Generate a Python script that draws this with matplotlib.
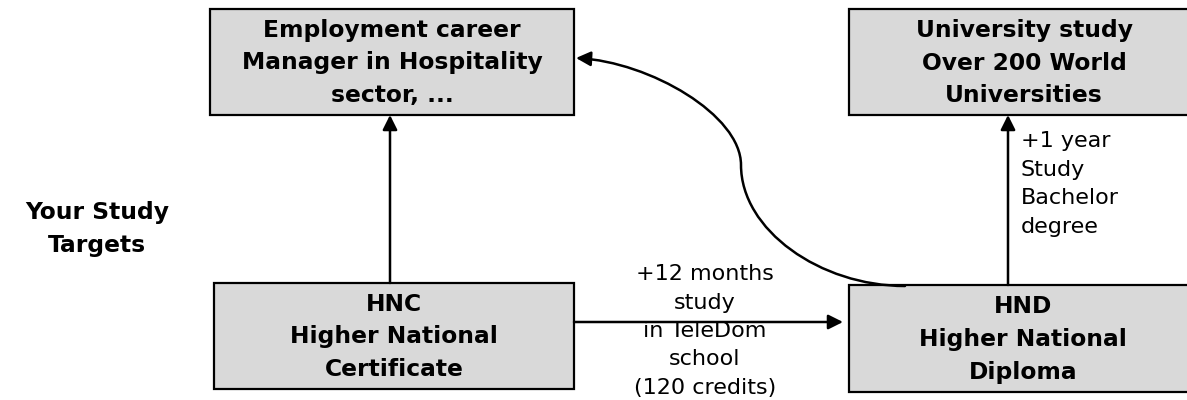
import matplotlib
matplotlib.use("Agg")
import matplotlib.pyplot as plt
from matplotlib.patches import Rectangle, FancyArrowPatch
from matplotlib.path import Path

# box texts
box_names = ['career', 'university', 'hnc', 'hnd']
box_labels = ['Employment career\nManager in Hospitality\nsector, ...',
              'University study\nOver 200 World\nUniversities',
              'HNC\nHigher National\nCertificate',
              'HND\nHigher National\nDiploma']
side_label = 'Your Study\nTargets'
hnc_to_hnd_label = '+12 months\nstudy\nin TeleDom\nschool\n(120 credits)'
hnd_to_uni_label = '+1 year\nStudy\nBachelor\ndegree'

# layout in pixels (x0, y0, x1, y1), y going down
boxes = {
    'career': (210, 9, 574, 115),
    'university': (849, 9, 1200, 115),
    'hnc': (214, 283, 574, 389),
    'hnd': (849, 285, 1200, 392),
}
text_x = {'career': 392, 'university': 1024, 'hnc': 394, 'hnd': 1023}

fig = plt.figure(figsize=(11.87, 4), dpi=100)
ax = fig.add_axes([0, 0, 1, 1])
ax.set_xlim(0, 1187)
ax.set_ylim(400, 0)
ax.axis('off')

for name, label in zip(box_names, box_labels):
    x0, y0, x1, y1 = boxes[name]
    ax.add_patch(Rectangle((x0, y0), x1 - x0, y1 - y0, facecolor='#d9d9d9',
                           edgecolor='black', linewidth=1.6, zorder=1))
    ax.text(text_x[name], (y0 + y1) / 2 + 1, label, ha='center', va='center',
            fontsize=16.8, fontweight='bold', linespacing=1.55, zorder=3)

ax.text(97, 229, side_label, ha='center', va='center', fontsize=16.8,
        fontweight='bold', linespacing=1.55)

arrow_kw = dict(arrowstyle='-|>', mutation_scale=22, color='black', linewidth=1.8,
                shrinkA=0, shrinkB=0, zorder=2)

ax.add_patch(FancyArrowPatch((390, 283), (390, 115), **arrow_kw))
ax.add_patch(FancyArrowPatch((1008, 285), (1008, 115), **arrow_kw))
ax.add_patch(FancyArrowPatch((574, 322), (843, 322), **arrow_kw))

# curved arrow from HND to the career box
verts = [(905, 286), (820, 286), (741, 230), (741, 165),
         (741, 115), (650, 62), (576, 58)]
codes = [Path.MOVETO] + [Path.CURVE4] * 6
ax.add_patch(FancyArrowPatch(path=Path(verts, codes), **arrow_kw))

ax.text(705, 331, hnc_to_hnd_label, ha='center', va='center', fontsize=16,
        linespacing=1.53)
ax.text(1021, 184, hnd_to_uni_label, ha='left', va='center', fontsize=16,
        linespacing=1.53)

fig.savefig('out.png', dpi=100)
